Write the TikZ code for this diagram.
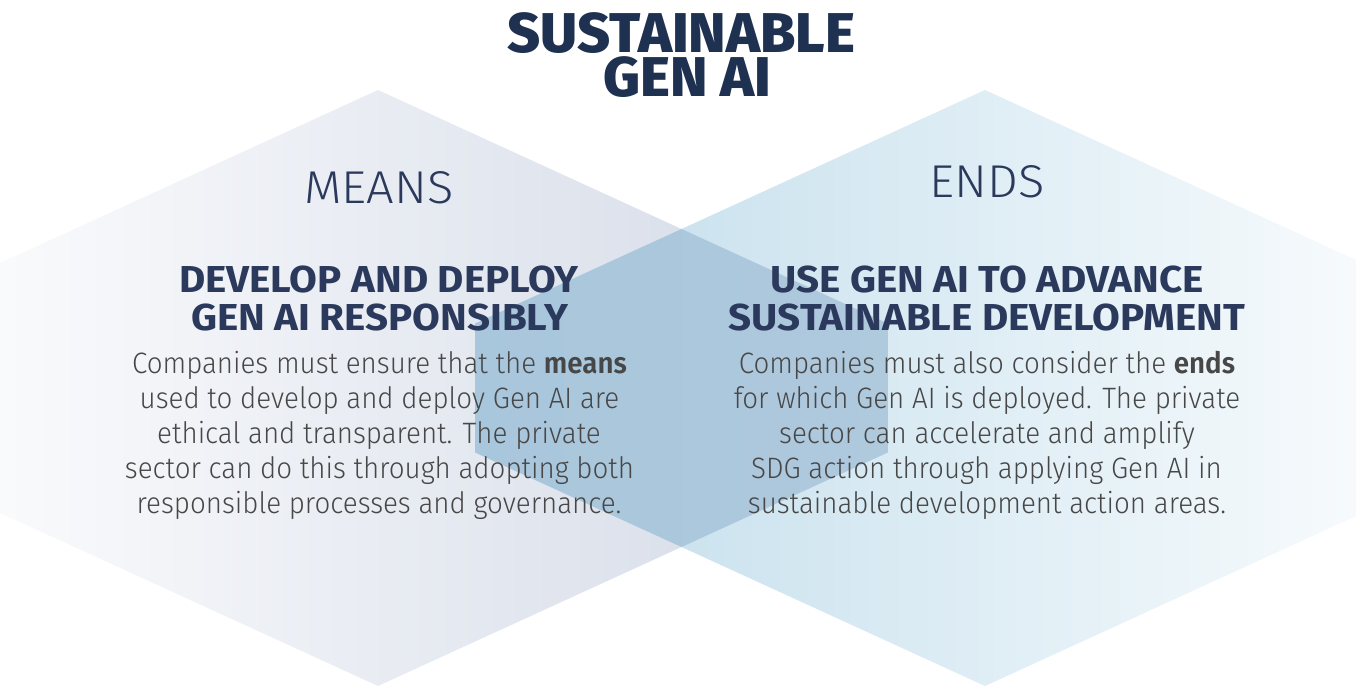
\documentclass[tikz,border=0pt]{standalone}
\usepackage{fontspec}
\setmainfont{Fira Sans}
\newfontfamily\bodyfont{Fira Sans Light}[BoldFont={Fira Sans SemiBold}, FakeStretch=0.94]
\newfontfamily\labelfont{Fira Sans Light}[FakeStretch=1.06]
\newfontfamily\headfont{Fira Sans Bold}[FakeStretch=1.075]
\newfontfamily\titlefont{Fira Sans ExtraBold}[FakeStretch=1.02]
\definecolor{titlecol}{HTML}{1F3150}
\definecolor{headcol}{HTML}{2B3A5C}
\definecolor{bodycol}{HTML}{474747}
\definecolor{leftend}{HTML}{D2D9E6}
\definecolor{rightstart}{HTML}{BFDCEB}
\definecolor{ovl}{HTML}{A8C6DC}
\definecolor{ovr}{HTML}{AFC9DD}
\begin{document}
\begin{tikzpicture}[x=1pt,y=-1pt,
  titletext/.style={anchor=south, inner sep=0pt, align=center, text=titlecol, font=\titlefont\fontsize{56}{44}\selectfont},
  labeltext/.style={anchor=base, inner sep=0pt, text=headcol, font=\labelfont\fontsize{46}{46}\selectfont},
  headtext/.style={anchor=base, inner sep=0pt, text=headcol, font=\headfont\fontsize{37.5}{37.5}\selectfont},
  bodytext/.style={anchor=base, inner sep=0pt, text=bodycol, font=\bodyfont\fontsize{29.5}{35}\selectfont}]
\useasboundingbox (0,0) rectangle (1356,687);
\clip (0,0) rectangle (1356,687);
% hexagons
\shade[left color=white, right color=leftend]
  (378,90) -- (888,323.6) -- (888,452.4) -- (378,686) -- (-132,452.4) -- (-132,323.6) -- cycle;
\shade[left color=rightstart, right color=white]
  (985,90) -- (1495,323.6) -- (1495,452.4) -- (985,686) -- (475,452.4) -- (475,323.6) -- cycle;
\shade[left color=ovl, right color=ovr]
  (681.5,229) -- (888,323.6) -- (888,452.4) -- (681.5,547) -- (475,452.4) -- (475,323.6) -- cycle;
% title
\node[titletext] (title) at (681.5,97.5) {SUSTAINABLE\\\kern12pt GEN AI};
% labels
\node[labeltext] (means) at (379,203) {MEANS};
\node[labeltext] (ends) at (987,197) {ENDS};
% headings
\node[headtext] (lh1) at (379,292) {DEVELOP AND DEPLOY};
\node[headtext] (lh2) at (379.5,330) {GEN AI RESPONSIBLY};
\node[headtext] (rh1) at (987,292) {USE GEN AI TO ADVANCE};
\node[headtext] (rh2) at (987,330) {SUSTAINABLE DEVELOPMENT};
% body left
\node[bodytext] (lb1) at (379.5,373) {Companies must ensure that the \textbf{means}};
\node[bodytext] (lb2) at (379.5,408) {used to develop and deploy Gen AI are};
\node[bodytext] (lb3) at (379,443) {ethical and transparent. The private};
\node[bodytext] (lb4) at (379.5,478) {sector can do this through adopting both};
\node[bodytext] (lb5) at (379,513) {responsible processes and governance.};
% body right
\node[bodytext] (rb1) at (987,373) {Companies must also consider the \textbf{ends}};
\node[bodytext] (rb2) at (987,408) {for which Gen AI is deployed. The private};
\node[bodytext] (rb3) at (987,443) {sector can accelerate and amplify};
\node[bodytext] (rb4) at (986.5,478) {SDG action through applying Gen AI in};
\node[bodytext] (rb5) at (987,513) {sustainable development action areas.};
\end{tikzpicture}
\end{document}
